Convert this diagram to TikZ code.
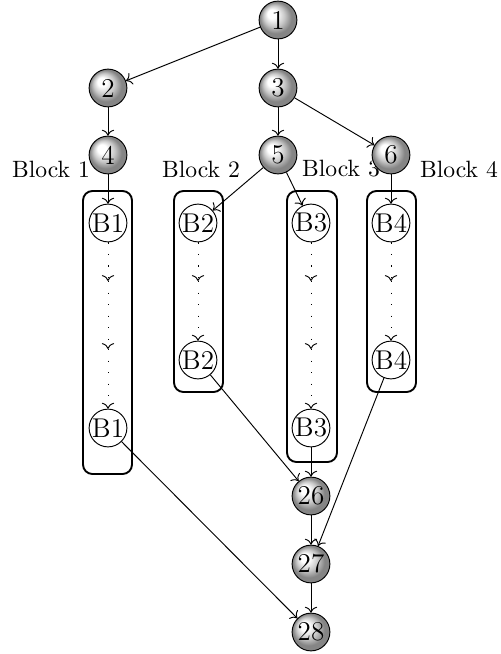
\documentclass[tikz,border=0pt]{standalone}
\usetikzlibrary{shadings,arrows.meta}
\pgfdeclareradialshading{myball}{\pgfpoint{-10bp}{10bp}}{%
  color(0bp)=(white); color(6bp)=(white); color(14bp)=(black!22);
  color(21bp)=(black!48); color(30bp)=(black!48)}
\begin{document}
\begin{tikzpicture}[x=0.4237pt,y=-0.4237pt,
  >={To[scale=1.0]},
  ballnode/.style={circle,draw,shading=myball,minimum size=16pt,inner sep=0pt,font=\fontsize{11.5}{13}\selectfont},
  bnode/.style={circle,draw,fill=white,minimum size=16pt,inner sep=0pt,font=\fontsize{11.5}{13}\selectfont},
  blockbox/.style={draw,thick,rounded corners=4pt},
  edge/.style={->},
  dotedge/.style={->,dash pattern=on 0.5pt off 4.4pt},
  lbl/.style={inner sep=0pt}]
\useasboundingbox (0,0) rectangle (501,654);
% boxes
\draw[blockbox] (83,191) rectangle (132,474);
\draw[blockbox] (174,191) rectangle (223,392);
\draw[blockbox] (287,191) rectangle (337,462);
\draw[blockbox] (367,191) rectangle (416,392);
% top nodes
\node[ballnode] (n1) at (278,20) {1};
\node[ballnode] (n2) at (108,88) {2};
\node[ballnode] (n3) at (278,88) {3};
\node[ballnode] (n4) at (108,155) {4};
\node[ballnode] (n5) at (278,155) {5};
% labels
\node[lbl] (l1) at (51,169) {Block 1};
\node[lbl] (l2) at (201,169) {Block 2};
\node[lbl] (l3) at (341,169) {Block 3};
\node[lbl] (l4) at (459,169) {Block 4};
\node[ballnode] (n6) at (391,155) {6};
% block nodes
\node[bnode] (b1a) at (108,223) {B1};
\node[bnode] (b1b) at (108,428) {B1};
\node[bnode] (b2a) at (198,223) {B2};
\node[bnode] (b2b) at (198,360) {B2};
\node[bnode] (b3a) at (311,223) {B3};
\node[bnode] (b3b) at (311,428) {B3};
\node[bnode] (b4a) at (391,223) {B4};
\node[bnode] (b4b) at (391,360) {B4};
% bottom nodes
\node[ballnode] (n26) at (311,496) {26};
\node[ballnode] (n27) at (311,564) {27};
\node[ballnode] (n28) at (311,632) {28};
% intermediate coordinates
\coordinate (c1a) at (108,281);
\coordinate (c1b) at (108,349);
\coordinate (c2a) at (198,281);
\coordinate (c3a) at (311,281);
\coordinate (c3b) at (311,349);
\coordinate (c4a) at (391,281);
% edges
\draw[edge] (n1) -- (n2);
\draw[edge] (n1) -- (n3);
\draw[edge] (n2) -- (n4);
\draw[edge] (n3) -- (n5);
\draw[edge] (n3) -- (n6);
\draw[edge] (n4) -- (b1a);
\draw[edge] (n5) -- (b2a);
\draw[edge] (n5) -- (b3a);
\draw[edge] (n6) -- (b4a);
\draw[dotedge] (b1a) -- (c1a);
\draw[dotedge] (c1a) -- (c1b);
\draw[dotedge] (c1b) -- (b1b);
\draw[dotedge] (b2a) -- (c2a);
\draw[dotedge] (c2a) -- (b2b);
\draw[dotedge] (b3a) -- (c3a);
\draw[dotedge] (c3a) -- (c3b);
\draw[dotedge] (c3b) -- (b3b);
\draw[dotedge] (b4a) -- (c4a);
\draw[dotedge] (c4a) -- (b4b);
\draw[edge] (b1b) -- (n28);
\draw[edge] (b2b) -- (n26);
\draw[edge] (b3b) -- (n26);
\draw[edge] (b4b) -- (n27);
\draw[edge] (n26) -- (n27);
\draw[edge] (n27) -- (n28);
\end{tikzpicture}
\end{document}
